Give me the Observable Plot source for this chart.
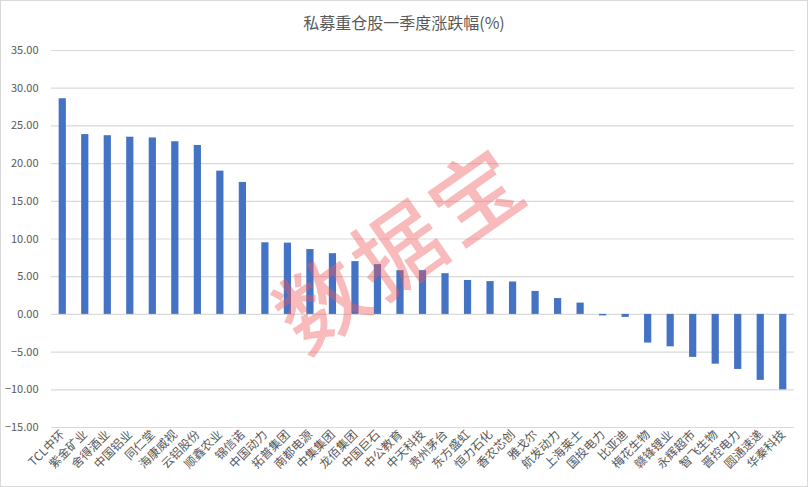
<!DOCTYPE html>
<html>
<head>
<meta charset="utf-8">
<script src="https://cdn.jsdelivr.net/npm/d3@7"></script>
<script src="https://cdn.jsdelivr.net/npm/@observablehq/plot@0.6"></script>
<style>
  html, body { margin: 0; padding: 0; background: #fff; }
  #wrap { position: relative; width: 808px; height: 487px; overflow: hidden; font-family: "Noto Sans CJK SC", "Noto Sans", sans-serif; }
  #title { position: absolute; left: 0; width: 808px; top: 10px; text-align: center; font-size: 16px; color: #595959; }
  #border { position: absolute; left: 0; top: 0; width: 806px; height: 485px; border: 1px solid #d9d9d9; pointer-events: none; }
  #wm { position: absolute; left: 398px; top: 244px; font-size: 88px; line-height: 1; font-weight: 500; color: rgba(239, 90, 90, 0.42); transform: translate(-50%, -50%) rotate(-35deg); letter-spacing: 6px; pointer-events: none; white-space: nowrap; }
</style>
</head>
<body>
<div id="wrap">
  <div id="chart"></div>
  <div id="title">私募重仓股一季度涨跌幅(%)</div>
  <div id="wm">数据宝</div>
  <div id="border"></div>
</div>
<script>
const stocks = ["TCL中环","紫金矿业","舍得酒业","中国铝业","同仁堂","海康威视","云铝股份","顺鑫农业","锦信诺","中国动力","拓普集团","南都电源","中集集团","龙佰集团","中国巨石","中公教育","中天科技","贵州茅台","东方盛虹","恒力石化","香农芯创","雅戈尔","航发动力","上海莱士","国投电力","比亚迪","梅花生物","赣锋锂业","永辉超市","智飞生物","晋控电力","圆通速递","华秦科技"];
const changes = [28.6,23.85,23.7,23.5,23.4,22.9,22.4,19.0,17.5,9.5,9.45,8.6,8.05,7.0,6.6,5.8,5.8,5.4,4.5,4.35,4.3,3.05,2.1,1.5,-0.2,-0.4,-3.8,-4.3,-5.7,-6.6,-7.3,-8.75,-10.0];
const yTicks = [-15,-10,-5,0,5,10,15,20,25,30,35];

const data = stocks.map((s, i) => ({stock: s, value: changes[i]}));

const chart = Plot.plot({
  width: 808,
  height: 487,
  marginTop: 50,
  marginBottom: 60,
  marginLeft: 51,
  marginRight: 14,
  style: {fontFamily: '"Noto Sans CJK SC", "Noto Sans", sans-serif', background: "transparent"},
  x: {domain: stocks, paddingInner: 0.68, paddingOuter: 0.34, round: false},
  y: {domain: [-15, 35]},
  marks: [
    Plot.ruleY(yTicks, {stroke: "#d9d9d9", strokeWidth: 1.2}),
    Plot.barY(data, {x: "stock", y: "value", fill: "#4472c4"}),
    Plot.axisY({ticks: yTicks, tickFormat: d3.format(".2f"), tickSize: 0, tickPadding: 13, fontSize: 11, fill: "#595959", label: null}),
    Plot.axisX({tickSize: 0, tickRotate: -45, tickPadding: 5, fontSize: 12, fill: "#595959", label: null})
  ]
});
document.getElementById("chart").appendChild(chart);
</script>
</body>
</html>
